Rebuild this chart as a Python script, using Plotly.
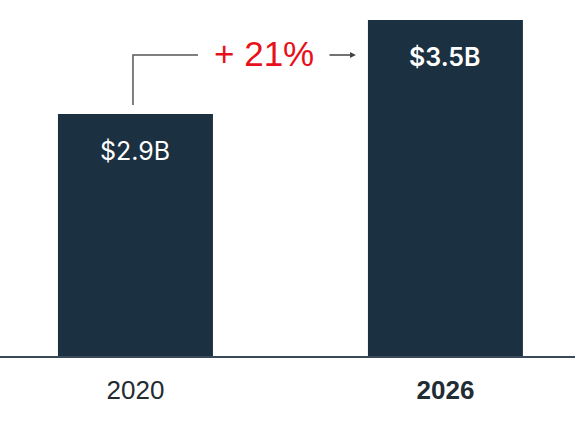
import plotly.graph_objects as go

years = ["2020", "2026"]
values = [2.9, 3.5]
value_labels = ["$2.9B", "$3.5B"]
growth_label = "+ 21%"

BAR = "#1b3040"
x_pos = [0, 1]

fig = go.Figure()
fig.add_trace(go.Bar(x=x_pos, y=values, width=0.5, marker=dict(color=BAR, line=dict(width=0)),
                     hoverinfo="skip"))

# value labels inside bars
weights = [400, 600]
for xi, v, lab, w in zip(x_pos, values, value_labels, weights):
    fig.add_annotation(x=xi, y=v, text=lab, showarrow=False, yshift=-37,
                       font=dict(family="Inter", size=25, color="white", weight=w))

# connector from 2020 bar to growth label
y_conn = values[0] + 0.376
fig.add_shape(type="path",
              path=f"M {x_pos[0]-0.008},{values[0]+0.057} L {x_pos[0]-0.008},{y_conn} L 0.2017,{y_conn}",
              line=dict(color="#555555", width=1.5), xref="x", yref="y")
fig.add_annotation(x=0.414, y=y_conn, text=growth_label, showarrow=False,
                   font=dict(family="Liberation Sans", size=35, color="#e8101a"), yshift=2)
fig.add_annotation(x=0.711, y=y_conn, ax=0.621, ay=y_conn, axref="x", ayref="y",
                   xref="x", yref="y", text="", showarrow=True, arrowhead=2,
                   arrowsize=0.9, arrowwidth=1.3, arrowcolor="#444444")

# baseline
fig.add_shape(type="line", xref="paper", yref="paper", x0=0, x1=1, y0=0, y1=0,
              line=dict(color="#3a4a58", width=2))

fig.update_layout(
    width=575, height=431,
    margin=dict(l=0, r=0, t=0, b=74),
    paper_bgcolor="white", plot_bgcolor="white",
    showlegend=False,
    xaxis=dict(range=[-0.437, 1.418], tickvals=x_pos,
               ticktext=[years[0], f"<b>{years[1]}</b>"],
               tickfont=dict(family="Liberation Sans", size=26, color="#222c33"),
               ticks="outside", ticklen=10, tickcolor="rgba(0,0,0,0)",
               showgrid=False, zeroline=False, showline=False, fixedrange=True),
    yaxis=dict(range=[1.349, 3.627], visible=False, showgrid=False, zeroline=False, fixedrange=True),
)

fig.write_html("out.html", config={"displayModeBar": False},
               post_script="document.body.style.margin='0';document.body.style.overflow='hidden';")
